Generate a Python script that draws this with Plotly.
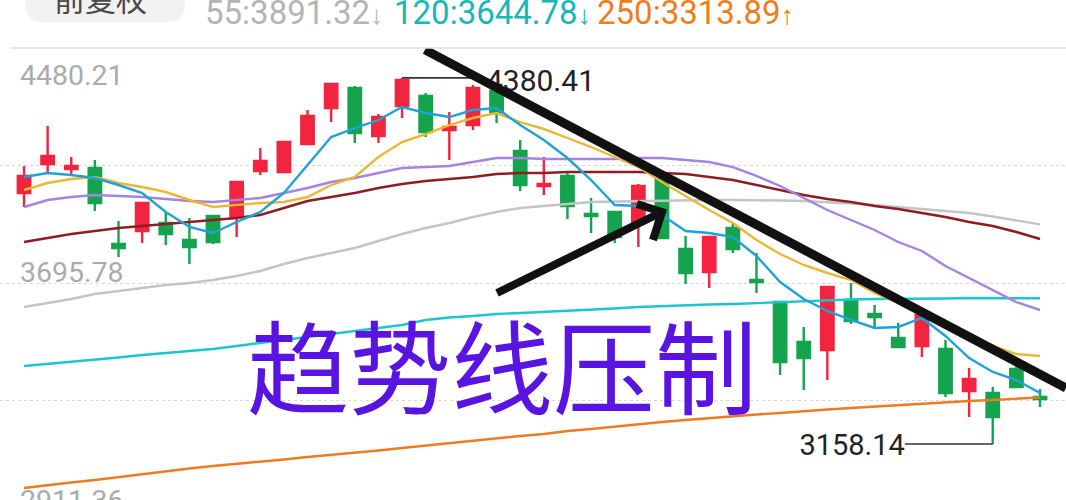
import plotly.graph_objects as go

# ---------------- data ----------------
opens = [3996.2, 4092.9, 4076.3, 4079.6, 3825.9, 3869.4, 3896.1, 3839.3, 3919.4, 3916.0,
         4069.7, 4066.3, 4159.7, 4279.9, 4346.7, 4186.5, 4286.6, 4320.0, 4206.5, 4223.1,
         4336.7, 4136.4, 4019.6, 4053.0, 3926.0, 3932.7, 3896.1, 4043.0, 3809.3, 3732.5,
         3879.4, 3705.8, 3632.3, 3498.8, 3472.1, 3639.0, 3592.3, 3512.2, 3485.5, 3475.5,
         3335.3, 3328.6, 3408.8, 3315.2]
closes = [4053.0, 4119.7, 4086.3, 3962.8, 3812.6, 3962.8, 3859.3, 3815.9, 3832.6, 4032.9,
          4103.0, 4166.4, 4253.2, 4360.0, 4196.5, 4249.8, 4373.4, 4199.8, 4216.4, 4346.7,
          4266.5, 4022.9, 4026.2, 3952.8, 3919.4, 3849.3, 4019.6, 3846.0, 3729.2, 3849.3,
          3809.3, 3699.1, 3432.1, 3445.4, 3682.4, 3569.0, 3582.3, 3482.1, 3589.0, 3328.6,
          3375.4, 3248.5, 3348.6, 3308.6]
highs = [4086.3, 4219.8, 4116.3, 4106.3, 3902.8, 3964.0, 3929.4, 3912.7, 3922.7, 4034.0,
         4146.4, 4169.8, 4273.2, 4361.0, 4353.4, 4259.8, 4380.41, 4330.0, 4266.5, 4356.7,
         4340.0, 4173.1, 4116.3, 4063.0, 3979.5, 3934.0, 4026.2, 4049.6, 3852.7, 3851.0,
         3896.1, 3795.9, 3634.0, 3548.9, 3684.0, 3695.8, 3622.3, 3562.3, 3590.5, 3505.5,
         3412.1, 3348.6, 3428.8, 3342.0]
lows = [3949.4, 4066.3, 4056.3, 3936.1, 3782.5, 3829.3, 3822.6, 3759.2, 3825.9, 3849.3,
        4056.3, 4063.0, 4158.0, 4233.1, 4163.1, 4163.1, 4246.5, 4183.1, 4106.3, 4206.5,
        4229.8, 4002.9, 3989.5, 3909.4, 3862.7, 3829.3, 3815.9, 3844.5, 3692.4, 3679.1,
        3795.9, 3662.4, 3388.7, 3338.6, 3372.0, 3558.9, 3545.6, 3480.5, 3448.7, 3315.2,
        3248.5, 3158.14, 3347.0, 3281.9]

ma5 = [4049.6, 4063.0, 4056.3, 4046.3, 4022.9, 3996.2, 3932.7, 3882.7, 3862.7, 3899.4,
       3932.7, 3996.2, 4089.6, 4183.1, 4213.1, 4239.8, 4283.2, 4263.2, 4249.8, 4273.2,
       4279.9, 4223.1, 4173.1, 4113.0, 4039.6, 3956.1, 3952.8, 3922.7, 3869.4, 3862.7,
       3849.3, 3785.9, 3699.1, 3642.4, 3602.4, 3572.3, 3545.6, 3548.9, 3579.0, 3518.9,
       3445.4, 3398.7, 3372.0, 3328.6]
ma10 = [4006.2, 4029.6, 4043.0, 4049.6, 4029.6, 4016.2, 3999.5, 3972.8, 3949.4, 3956.1,
        3962.8, 3966.1, 3982.8, 4022.9, 4049.6, 4116.3, 4166.4, 4193.1, 4223.1, 4246.5,
        4263.2, 4233.1, 4209.8, 4179.8, 4149.7, 4116.3, 4082.9, 4032.9, 3986.2, 3939.4,
        3896.1, 3839.3, 3792.5, 3755.9, 3729.2, 3705.8, 3662.4, 3629.0, 3589.0, 3548.9,
        3515.5, 3485.5, 3458.7, 3452.1]
ma20 = [3949.4, 3972.8, 3982.8, 3989.5, 3986.2, 3982.8, 3976.2, 3969.5, 3966.1, 3972.8,
        3979.5, 3996.2, 4012.9, 4032.9, 4046.3, 4063.0, 4079.6, 4082.9, 4086.3, 4099.6,
        4113.0, 4113.0, 4109.7, 4109.7, 4109.7, 4109.7, 4113.0, 4113.0, 4106.3, 4099.6,
        4082.9, 4053.0, 4019.6, 3979.5, 3939.4, 3906.1, 3872.7, 3832.6, 3802.6, 3752.6,
        3712.5, 3672.4, 3632.3, 3605.7]
ma30 = [3832.6, 3846.0, 3859.3, 3869.4, 3879.4, 3886.1, 3892.7, 3899.4, 3906.1, 3912.7,
        3922.7, 3946.1, 3969.5, 3982.8, 3996.2, 4012.9, 4026.2, 4036.3, 4043.0, 4049.6,
        4059.6, 4063.0, 4063.0, 4066.3, 4066.3, 4066.3, 4066.3, 4063.0, 4059.6, 4049.6,
        4039.6, 4022.9, 4006.2, 3989.5, 3976.2, 3966.1, 3952.8, 3942.8, 3929.4, 3916.0,
        3899.4, 3886.1, 3866.0, 3842.7]
ma55 = [3615.6, 3629.0, 3642.4, 3659.0, 3669.1, 3679.1, 3689.1, 3695.8, 3705.8, 3719.2,
        3735.9, 3759.2, 3779.2, 3795.9, 3812.6, 3836.0, 3859.3, 3879.4, 3896.1, 3916.0,
        3932.7, 3946.1, 3952.8, 3959.4, 3966.1, 3967.8, 3969.5, 3971.1, 3972.8, 3972.8,
        3972.8, 3972.8, 3971.1, 3969.5, 3966.1, 3961.1, 3956.1, 3949.4, 3942.8, 3936.1,
        3929.4, 3917.7, 3904.4, 3891.32]
ma120 = [3418.8, 3425.4, 3432.1, 3438.8, 3447.1, 3455.4, 3462.1, 3468.8, 3475.5, 3485.5,
         3495.5, 3505.5, 3515.5, 3525.5, 3535.6, 3545.6, 3555.6, 3572.3, 3580.7, 3585.7,
         3592.3, 3595.7, 3599.0, 3604.0, 3607.3, 3610.6, 3615.6, 3619.0, 3622.3, 3624.0,
         3625.6, 3629.0, 3632.3, 3635.7, 3639.0, 3640.7, 3642.4, 3642.4, 3644.0, 3644.0,
         3645.7, 3645.0, 3645.0, 3644.78]
ma250 = [3011.5, 3021.5, 3029.9, 3038.2, 3048.2, 3058.2, 3068.3, 3076.6, 3085.0, 3091.6,
         3098.3, 3106.7, 3115.0, 3121.7, 3128.4, 3136.7, 3145.0, 3153.3, 3161.7, 3168.4,
         3176.7, 3185.1, 3191.7, 3201.8, 3208.5, 3216.8, 3225.1, 3231.8, 3238.5, 3245.2,
         3251.9, 3256.9, 3261.9, 3268.6, 3273.6, 3278.6, 3283.6, 3288.6, 3291.9, 3297.0,
         3302.0, 3305.3, 3310.2, 3313.89]

axis_labels = [4480.21, 3695.78, 2911.36]
grid_vals = [4088.0, 3695.78, 3303.57]
title_text = "趋势线压制"
mode_button = "前复权"

# ---------------- styles ----------------
RED = "#F2243F"
GREEN = "#14A44D"
NUM_FONT = "Roboto"
CJK_FONT = "Noto Sans CJK SC"
W, H = 1066, 500
TOP = 48
PX_PER_PRICE = (H - TOP) / (4480.21 - 2971.43)

def px_x(p):
    return p / W

def px_y(p):
    return (H - p) / (H - TOP)

n = len(opens)
idx = list(range(n))

fig = go.Figure()
fig.add_trace(go.Candlestick(
    x=idx, open=opens, high=highs, low=lows, close=closes,
    increasing=dict(line=dict(color=RED, width=2.4), fillcolor=RED),
    decreasing=dict(line=dict(color=GREEN, width=2.4), fillcolor=GREEN),
    whiskerwidth=0, hoverinfo="skip", showlegend=False))

ma_series = [
    (ma250, "#F07A1E"),
    (ma120, "#1CC6CF"),
    (ma55, "#C4C4C4"),
    (ma30, "#8E1C22"),
    (ma20, "#A584E0"),
    (ma10, "#E9B835"),
    (ma5, "#1FA2D8"),
]
for vals, col in ma_series:
    fig.add_trace(go.Scatter(x=idx, y=vals, mode="lines",
                             line=dict(color=col, width=2.4),
                             hoverinfo="skip", showlegend=False))

# high / low markers (label text sits a few pixels below its leader line)
hi_i = highs.index(max(highs))
lo_i = lows.index(min(lows))
hi_off, lo_off = 3.55, 3.72
fig.add_trace(go.Scatter(x=[hi_i, hi_i + hi_off], y=[highs[hi_i]] * 2, mode="lines",
                         line=dict(color="#333", width=1.6), hoverinfo="skip", showlegend=False))
fig.add_trace(go.Scatter(x=[hi_i + hi_off], y=[highs[hi_i] - 6 / PX_PER_PRICE], mode="text",
                         text=[f"{highs[hi_i]:.2f}"], textposition="middle right",
                         textfont=dict(family=NUM_FONT, size=30, color="#222"),
                         hoverinfo="skip", showlegend=False))
fig.add_trace(go.Scatter(x=[lo_i, lo_i - lo_off], y=[lows[lo_i]] * 2, mode="lines",
                         line=dict(color="#333", width=1.6), hoverinfo="skip", showlegend=False))
fig.add_trace(go.Scatter(x=[lo_i - lo_off], y=[lows[lo_i] - 4 / PX_PER_PRICE], mode="text",
                         text=[f"{lows[lo_i]:.2f}"], textposition="middle left",
                         textfont=dict(family=NUM_FONT, size=29, color="#222"),
                         hoverinfo="skip", showlegend=False))

# trend line (hand drawn annotation)
fig.add_shape(type="line", xref="x", yref="y", x0=16.97, y0=4474.0, x1=44.1, y1=3345.3,
              line=dict(color="#111111", width=9))
# arrow
fig.add_shape(type="path", xref="x", yref="y",
              path="M 20.02,3662.4 L 27.0,3932.8 M 25.94,3959.5 L 27.0,3932.8 L 26.62,3839.3",
              line=dict(color="#111111", width=8))

# header separator line
fig.add_shape(type="line", xref="paper", yref="paper", x0=px_x(10), x1=1, y0=1, y1=1,
              line=dict(color="#E2E2E2", width=1.5))

# header pill button
x0, x1, rx = px_x(25), px_x(185), px_x(18)
yb, ry, yt = px_y(22), 18 / (H - TOP), px_y(-12)
fig.add_shape(type="path", xref="paper", yref="paper",
              path=(f"M {x0+rx},{yb} L {x1-rx},{yb} Q {x1},{yb} {x1},{yb+ry} L {x1},{yt} "
                    f"L {x0},{yt} L {x0},{yb+ry} Q {x0},{yb} {x0+rx},{yb} Z"),
              fillcolor="#F2F2F3", line=dict(width=0))

fig.add_annotation(text=mode_button, xref="paper", yref="paper", x=px_x(100), y=px_y(-2),
                   xanchor="center", yanchor="middle", showarrow=False,
                   font=dict(family=CJK_FONT, size=31, color="#4A4A4A"))

header = [
    (f"55:{ma55[-1]:.2f}", "↓", "#B4B4B4", 203),
    (f"120:{ma120[-1]:.2f}", "↓", "#17B7B9", 392),
    (f"250:{ma250[-1]:.2f}", "↑", "#EF7D1B", 595),
]
for label, arr, col, xpx in header:
    fig.add_annotation(text=f"{label}<span style='font-size:26px'>{arr}</span>",
                       xref="paper", yref="paper", x=px_x(xpx), y=px_y(12),
                       xanchor="left", yanchor="middle", showarrow=False,
                       font=dict(family=NUM_FONT, size=33, color=col))

# y axis value labels
label_px = [75, 272, 500]
for v, ypx in zip(axis_labels, label_px):
    fig.add_annotation(text=f"{v:.2f}", xref="paper", yref="paper", x=px_x(18), y=px_y(ypx),
                       xanchor="left", yanchor="middle", showarrow=False,
                       font=dict(family=NUM_FONT, size=28.5, color="#ABABAB"))

# big caption
fig.add_annotation(text=title_text, xref="paper", yref="paper", x=px_x(502), y=px_y(363),
                   xanchor="center", yanchor="middle", showarrow=False,
                   font=dict(family=CJK_FONT, size=102, color="#5A14E1"))

fig.update_layout(
    width=W, height=H,
    margin=dict(l=0, r=0, t=TOP, b=0),
    paper_bgcolor="white", plot_bgcolor="white",
    boxgap=0.25, showlegend=False,
    xaxis=dict(range=[-1.0157, 44.10], visible=False, rangeslider=dict(visible=False),
               fixedrange=True),
    yaxis=dict(range=[2971.43, 4480.21], tickvals=grid_vals, showticklabels=False,
               showgrid=True, gridcolor="#D8D8D8", griddash="dot", gridwidth=1,
               zeroline=False, showline=False, ticks="", fixedrange=True),
)

fig.write_html("out.html", config={"displayModeBar": False},
               post_script="document.body.style.margin='0';document.body.style.overflow='hidden';")
